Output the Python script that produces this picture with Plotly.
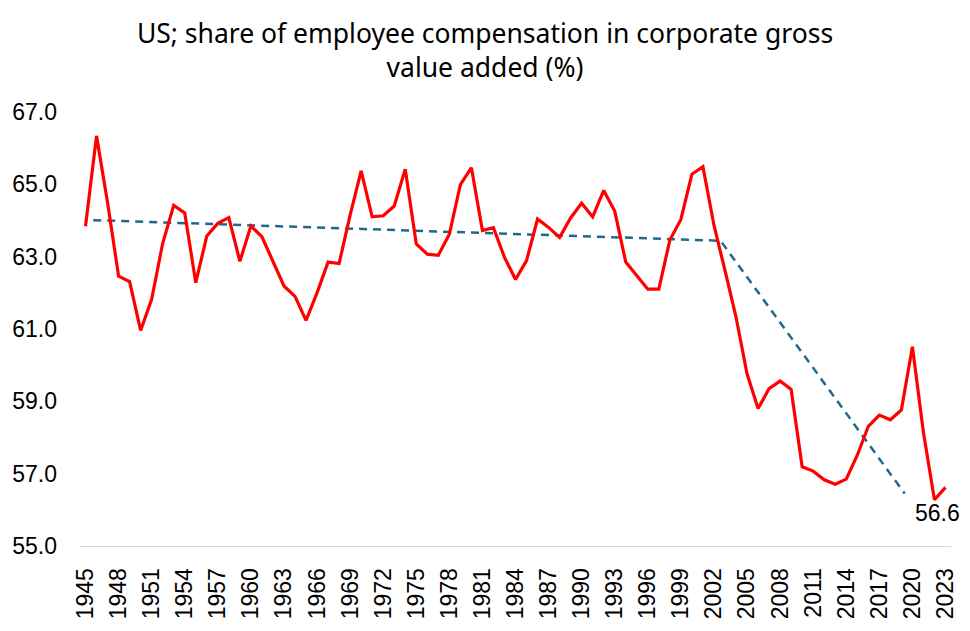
import plotly.graph_objects as go

years = list(range(1945, 2024))
share = [
    63.84, 66.34, 64.50, 62.46, 62.31, 60.96, 61.82, 63.37, 64.42, 64.21,
    62.28, 63.57, 63.92, 64.08, 62.87, 63.85, 63.55, 62.87, 62.19, 61.90,
    61.24, 62.00, 62.85, 62.81, 64.15, 65.37, 64.10, 64.13, 64.40, 65.42,
    63.35, 63.07, 63.04, 63.62, 64.99, 65.46, 63.72, 63.80, 62.98, 62.37,
    62.89, 64.04, 63.81, 63.53, 64.07, 64.48, 64.10, 64.83, 64.26, 62.85,
    62.47, 62.10, 62.10, 63.46, 64.03, 65.28, 65.49, 63.87, 62.62, 61.33,
    59.76, 58.80, 59.35, 59.56, 59.33, 57.19, 57.07, 56.83, 56.71, 56.85,
    57.51, 58.31, 58.62, 58.49, 58.76, 60.51, 58.14, 56.28, 56.62,
]
trend_years = [1945.7, 2002.6, 2019.3]
trend_values = [64.01, 63.44, 56.45]

tick_years = list(range(1945, 2024, 3))
y_ticks = [55, 57, 59, 61, 63, 65, 67]

label_font = dict(family="Liberation Sans, Arial, sans-serif", size=23, color="#000000")

fig = go.Figure()
fig.add_trace(go.Scatter(
    x=trend_years, y=trend_values, mode="lines",
    line=dict(color="#1F6A8C", width=2.5, dash="8px,6px"),
    hoverinfo="skip", showlegend=False,
))
fig.add_trace(go.Scatter(
    x=years, y=share, mode="lines",
    line=dict(color="#FF0000", width=3.2),
    showlegend=False,
))
fig.add_annotation(
    x=years[-1], y=share[-1], text=f"{share[-1]:.1f}",
    showarrow=False, xshift=-8, yshift=-26, font=label_font,
)

fig.update_layout(
    width=970, height=631,
    margin=dict(l=80, r=15, t=112, b=79),
    paper_bgcolor="white", plot_bgcolor="white",
    title=dict(
        text="US; share of employee compensation in corporate gross<br>value added (%)",
        x=0.5, xanchor="center", xref="container",
        y=1 - 43 / 631, yanchor="middle", yref="container",
        font=dict(family="Noto Sans, sans-serif", size=26.5, color="#000000"),
    ),
)
fig.update_xaxes(
    range=[1944.5, 2023.5], tickmode="array", tickvals=tick_years,
    ticktext=[str(y) for y in tick_years], tickangle=-90,
    showgrid=False, zeroline=False, showline=True, linecolor="#D9D9D9", linewidth=1,
    ticks="", tickfont=label_font, ticklabelstandoff=12,
)
fig.update_yaxes(
    range=[55, 67], tickmode="array", tickvals=y_ticks,
    ticktext=[f"{v:.1f}" for v in y_ticks],
    showgrid=False, zeroline=False, showline=False,
    ticks="", tickfont=label_font, ticklabelstandoff=22,
)

fig.write_html("out.html")
